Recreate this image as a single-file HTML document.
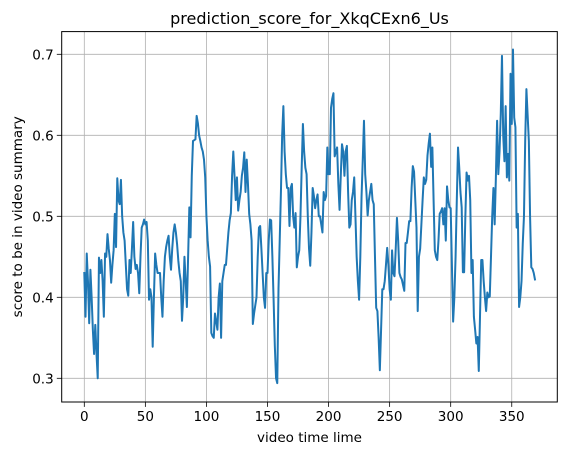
<!DOCTYPE html>
<html><head><meta charset="utf-8"><style>
html,body{margin:0;padding:0;background:#fff;}
svg{display:block;font-family:"DejaVu Sans","Liberation Sans",sans-serif;}
</style></head><body>
<svg id="chart" width="567" height="455" viewBox="0 0 567 455" xmlns="http://www.w3.org/2000/svg">
<rect width="567" height="455" fill="#fff"/>
<g id="grid"></g>
<g id="series"></g>
<rect x="61.7" y="31.6" width="495.6" height="370.4" fill="none" stroke="#000" stroke-width="1"/>
<g id="ticks"></g>
<text x="309.5" y="24" text-anchor="middle" font-size="16" fill="#000">prediction_score_for_XkqCExn6_Us</text>
<text x="309.5" y="442" text-anchor="middle" font-size="13.5" fill="#000">video time lime</text>
<text transform="translate(22,216.8) rotate(-90)" text-anchor="middle" font-size="13.5" fill="#000">score to be in video summary</text>
</svg>
<script>
const xTicks = [0, 50, 100, 150, 200, 250, 300, 350];
const yTicks = [0.3, 0.4, 0.5, 0.6, 0.7];
const yTickLabels = ["0.3", "0.4", "0.5", "0.6", "0.7"];
const scores = [
0.43,0.376,0.454,0.42,0.368,0.434,0.40,0.36,0.33,0.366,
0.33,0.30,0.449,0.43,0.446,0.42,0.376,0.454,0.45,0.478,
0.46,0.446,0.418,0.44,0.458,0.503,0.462,0.547,0.52,0.515,
0.545,0.50,0.48,0.47,0.44,0.41,0.402,0.446,0.43,0.46,
0.493,0.45,0.435,0.44,0.43,0.405,0.45,0.486,0.49,0.496,
0.49,0.493,0.47,0.397,0.41,0.40,0.339,0.40,0.454,0.44,
0.43,0.43,0.43,0.40,0.376,0.42,0.45,0.462,0.47,0.476,
0.45,0.434,0.46,0.48,0.49,0.48,0.465,0.445,0.43,0.42,
0.371,0.40,0.45,0.42,0.388,0.45,0.511,0.474,0.55,0.593,
0.594,0.595,0.624,0.615,0.60,0.593,0.585,0.58,0.57,0.548,
0.50,0.47,0.45,0.438,0.356,0.352,0.35,0.38,0.37,0.36,
0.40,0.417,0.35,0.42,0.43,0.44,0.44,0.46,0.48,0.495,
0.504,0.55,0.58,0.55,0.52,0.548,0.507,0.52,0.53,0.55,
0.56,0.579,0.53,0.57,0.54,0.503,0.49,0.47,0.367,0.38,
0.39,0.40,0.45,0.486,0.488,0.46,0.43,0.40,0.387,0.43,
0.43,0.47,0.496,0.495,0.45,0.397,0.34,0.30,0.294,0.41,
0.47,0.53,0.60,0.636,0.58,0.552,0.535,0.535,0.488,0.535,
0.54,0.50,0.486,0.504,0.437,0.45,0.458,0.50,0.56,0.614,
0.58,0.56,0.552,0.50,0.46,0.439,0.48,0.535,0.525,0.51,
0.52,0.527,0.50,0.50,0.49,0.48,0.53,0.52,0.525,0.585,
0.552,0.552,0.634,0.645,0.652,0.574,0.58,0.585,0.54,0.508,
0.55,0.589,0.58,0.55,0.58,0.587,0.53,0.486,0.49,0.52,
0.53,0.548,0.50,0.45,0.42,0.397,0.45,0.524,0.57,0.618,
0.552,0.53,0.501,0.52,0.53,0.54,0.52,0.515,0.45,0.387,
0.383,0.35,0.31,0.36,0.41,0.41,0.42,0.44,0.461,0.44,
0.41,0.397,0.458,0.43,0.426,0.46,0.498,0.47,0.43,0.425,
0.422,0.415,0.408,0.467,0.467,0.48,0.494,0.494,0.535,0.562,
0.555,0.52,0.486,0.383,0.45,0.46,0.49,0.52,0.548,0.54,
0.545,0.575,0.59,0.602,0.561,0.585,0.52,0.458,0.45,0.446,
0.47,0.503,0.506,0.51,0.49,0.51,0.47,0.537,0.52,0.511,
0.51,0.44,0.37,0.40,0.45,0.52,0.585,0.56,0.53,0.511,
0.431,0.431,0.50,0.554,0.544,0.55,0.52,0.43,0.446,0.376,
0.36,0.343,0.351,0.309,0.376,0.446,0.446,0.42,0.40,0.383,
0.406,0.40,0.401,0.45,0.50,0.535,0.49,0.548,0.618,0.552,
0.58,0.626,0.698,0.60,0.568,0.636,0.548,0.577,0.544,0.676,
0.614,0.706,0.622,0.61,0.486,0.503,0.388,0.40,0.42,0.466,
0.50,0.593,0.657,0.625,0.593,0.50,0.437,0.435,0.43,0.422
];
const NS = "http://www.w3.org/2000/svg";
const L = 61.7, R = 557.3, T = 31.6, B = 402;
function xs(v){ return 84.3 + v * 1.2213; }
function ys(v){ return 378.3 - (v - 0.3) * 810; }
const grid = document.getElementById('grid');
const ticks = document.getElementById('ticks');
function mk(tag, attrs, parent){
  const e = document.createElementNS(NS, tag);
  for (const k in attrs) e.setAttribute(k, attrs[k]);
  parent.appendChild(e); return e;
}
xTicks.forEach(function(t){
  const x = xs(t);
  const g = mk('line', {x1:x, x2:x, y1:T, y2:B, stroke:'#b0b0b0', 'stroke-width':0.8}, grid);
  
  
  mk('line', {x1:x, x2:x, y1:B, y2:B+4.9, stroke:'#000', 'stroke-width':0.8}, ticks);
  const lb = mk('text', {x:x, y:B+19, 'text-anchor':'middle', 'font-size':13.5, fill:'#000'}, ticks);
  lb.textContent = String(t);
  
  
});
yTicks.forEach(function(t, i){
  const y = ys(t);
  const g = mk('line', {x1:L, x2:R, y1:y, y2:y, stroke:'#b0b0b0', 'stroke-width':0.8}, grid);
  
  
  mk('line', {x1:L-4.9, x2:L, y1:y, y2:y, stroke:'#000', 'stroke-width':0.8}, ticks);
  const lb = mk('text', {x:L-8, y:y+5, 'text-anchor':'end', 'font-size':13.5, fill:'#000'}, ticks);
  lb.textContent = yTickLabels[i];
  
  
});
const pts = scores.map(function(v, i){ return xs(i).toFixed(2) + ',' + ys(v).toFixed(2); }).join(' ');
const line = mk('polyline', {points: pts, fill:'none', stroke:'#1f77b4', 'stroke-width':2, 'stroke-linejoin':'round', 'stroke-linecap':'square'}, document.getElementById('series'));


</script>
</body></html>
